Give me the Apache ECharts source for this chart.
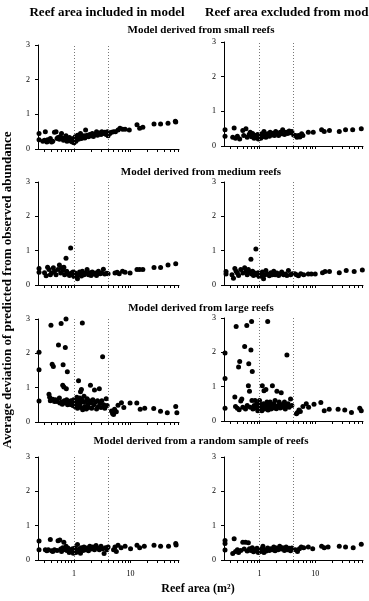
<!DOCTYPE html>
<html><head><meta charset="utf-8">
<script src="https://cdn.jsdelivr.net/npm/echarts@6/dist/echarts.min.js"></script>
<style>html,body{margin:0;padding:0;background:#fff}#c{width:369px;height:601px}</style>
</head><body><div id="c"></div>
<script>
const columnTitles = ['Reef area included in model', 'Reef area excluded from model'];
const rowTitles = ['Model derived from small reefs', 'Model derived from medium reefs', 'Model derived from large reefs', 'Model derived from a random sample of reefs'];
const yAxisTitle = 'Average deviation of predicted from observed abundance';
const xAxisTitle = 'Reef area (m\u00B2)';
const xTickValues = [0.3,0.4,0.5,0.6,0.7,0.8,0.9,1,2,3,4,5,6,7,8,9,10,20,30,40,50,60,70];
const xLabelValues = [1, 10];
const thresholdLines = [1, 4];

const smallIncluded = [[0.24,0.45],[0.24,0.27],[0.28,0.22],[0.3,0.25],[0.31,0.5],[0.33,0.2],[0.34,0.27],[0.36,0.24],[0.38,0.3],[0.4,0.2],[0.42,0.22],[0.45,0.48],[0.48,0.5],[0.5,0.3],[0.52,0.33],[0.55,0.28],[0.57,0.36],[0.6,0.45],[0.62,0.3],[0.65,0.25],[0.68,0.32],[0.7,0.27],[0.72,0.38],[0.75,0.22],[0.78,0.3],[0.8,0.26],[0.83,0.33],[0.86,0.23],[0.9,0.28],[0.93,0.2],[0.97,0.3],[1.0,0.18],[1.02,0.25],[1.05,0.35],[1.08,0.22],[1.1,0.3],[1.15,0.4],[1.2,0.28],[1.25,0.33],[1.3,0.45],[1.35,0.3],[1.4,0.36],[1.5,0.38],[1.55,0.32],[1.6,0.55],[1.7,0.4],[1.8,0.35],[1.9,0.42],[2.0,0.38],[2.1,0.45],[2.2,0.36],[2.35,0.42],[2.5,0.5],[2.6,0.4],[2.8,0.46],[3.0,0.42],[3.1,0.5],[3.3,0.45],[3.5,0.48],[3.7,0.42],[3.9,0.5],[4.0,0.38],[4.3,0.45],[4.6,0.48],[5.0,0.5],[5.4,0.5],[6.0,0.55],[6.5,0.6],[7.2,0.57],[8.0,0.57],[9.5,0.55],[13,0.7],[14.5,0.6],[16.5,0.63],[26,0.72],[34,0.72],[46,0.74],[62,0.8],[63,0.78]];
const smallExcluded = [[0.24,0.47],[0.24,0.28],[0.33,0.25],[0.35,0.52],[0.37,0.22],[0.4,0.28],[0.44,0.2],[0.5,0.45],[0.52,0.3],[0.57,0.5],[0.6,0.25],[0.65,0.33],[0.68,0.4],[0.72,0.27],[0.75,0.36],[0.8,0.22],[0.85,0.3],[0.88,0.25],[0.92,0.33],[0.95,0.2],[1.0,0.28],[1.05,0.22],[1.1,0.35],[1.15,0.27],[1.2,0.42],[1.25,0.3],[1.3,0.25],[1.4,0.35],[1.5,0.28],[1.55,0.4],[1.65,0.32],[1.75,0.37],[1.85,0.3],[1.95,0.42],[2.1,0.35],[2.2,0.3],[2.35,0.4],[2.5,0.35],[2.6,0.47],[2.8,0.33],[3.0,0.4],[3.2,0.36],[3.4,0.43],[3.6,0.38],[3.8,0.42],[4.1,0.32],[4.4,0.3],[4.7,0.25],[5.0,0.3],[5.3,0.26],[5.7,0.35],[6.0,0.3],[7.5,0.4],[9.2,0.4],[13,0.47],[14.5,0.42],[18,0.45],[27,0.42],[35,0.47],[47,0.47],[67,0.5]];
const mediumIncluded = [[0.24,0.48],[0.24,0.37],[0.3,0.36],[0.32,0.27],[0.34,0.52],[0.36,0.45],[0.38,0.3],[0.4,0.35],[0.43,0.5],[0.45,0.4],[0.48,0.3],[0.52,0.45],[0.55,0.58],[0.58,0.35],[0.6,0.5],[0.63,0.42],[0.66,0.52],[0.68,0.3],[0.72,0.78],[0.74,0.4],[0.76,0.35],[0.8,0.32],[0.83,0.28],[0.87,1.08],[0.9,0.35],[0.93,0.3],[0.96,0.38],[1.0,0.25],[1.05,0.35],[1.1,0.28],[1.15,0.18],[1.18,0.3],[1.25,0.38],[1.3,0.32],[1.35,0.26],[1.4,0.4],[1.5,0.3],[1.6,0.35],[1.7,0.45],[1.8,0.3],[1.9,0.36],[2.0,0.28],[2.1,0.38],[2.25,0.32],[2.4,0.35],[2.5,0.28],[2.7,0.4],[2.9,0.33],[3.1,0.35],[3.3,0.46],[3.5,0.32],[3.8,0.34],[4.0,0.33],[5.3,0.35],[5.8,0.37],[6.3,0.33],[7.2,0.4],[8.0,0.37],[9.8,0.35],[13,0.45],[14.5,0.45],[16.5,0.45],[26,0.51],[34,0.51],[46,0.58],[63,0.62]];
const mediumExcluded = [[0.25,0.39],[0.25,0.32],[0.32,0.3],[0.34,0.2],[0.36,0.48],[0.38,0.4],[0.4,0.35],[0.42,0.28],[0.46,0.45],[0.5,0.35],[0.54,0.5],[0.57,0.4],[0.6,0.3],[0.63,0.45],[0.66,0.37],[0.7,0.75],[0.72,0.32],[0.75,0.4],[0.78,0.28],[0.82,0.35],[0.86,1.05],[0.9,0.3],[0.94,0.36],[0.98,0.25],[1.03,0.32],[1.08,0.27],[1.12,0.38],[1.18,0.18],[1.25,0.3],[1.3,0.42],[1.4,0.32],[1.5,0.27],[1.6,0.36],[1.7,0.3],[1.8,0.4],[1.9,0.3],[2.05,0.35],[2.2,0.28],[2.35,0.33],[2.5,0.38],[2.7,0.3],[2.9,0.32],[3.1,0.28],[3.3,0.42],[3.6,0.3],[3.9,0.33],[4.3,0.33],[4.6,0.3],[5.0,0.27],[5.5,0.33],[6.2,0.3],[7.5,0.32],[8.5,0.32],[10,0.32],[13.5,0.36],[15,0.39],[18,0.39],[27,0.36],[36,0.42],[50,0.39],[70,0.44]];
const largeIncluded = [[0.24,2.03],[0.24,1.52],[0.24,0.61],[0.36,0.81],[0.37,0.72],[0.38,0.62],[0.39,2.82],[0.41,1.68],[0.42,0.66],[0.43,1.62],[0.45,0.6],[0.47,0.65],[0.5,0.6],[0.53,2.24],[0.55,0.7],[0.56,0.55],[0.59,2.87],[0.6,0.58],[0.62,0.52],[0.63,1.07],[0.64,1.67],[0.66,1.02],[0.67,0.62],[0.7,2.17],[0.71,0.55],[0.72,3.0],[0.73,0.97],[0.74,0.65],[0.76,1.46],[0.77,0.5],[0.8,0.6],[0.82,0.55],[0.85,0.52],[0.88,0.62],[0.9,0.5],[0.93,0.58],[0.96,0.48],[0.98,0.65],[1.0,0.55],[1.03,0.45],[1.06,0.6],[1.1,0.5],[1.12,0.72],[1.15,0.4],[1.18,0.62],[1.2,1.2],[1.23,0.48],[1.26,0.7],[1.28,0.55],[1.3,0.88],[1.33,0.42],[1.35,0.95],[1.37,0.65],[1.4,2.88],[1.42,0.36],[1.45,0.58],[1.5,0.75],[1.55,0.45],[1.6,0.6],[1.65,0.38],[1.7,0.68],[1.75,0.5],[1.8,0.42],[1.85,0.62],[1.95,1.07],[2.0,0.55],[2.05,0.4],[2.15,0.65],[2.25,0.5],[2.3,0.93],[2.4,0.58],[2.5,0.38],[2.6,0.62],[2.7,0.45],[2.8,0.97],[2.9,0.55],[3.0,0.42],[3.1,0.62],[3.2,1.9],[3.35,0.5],[3.5,0.4],[3.7,0.68],[3.85,0.48],[4.6,0.32],[4.8,0.25],[5.0,0.22],[5.2,0.37],[5.6,0.3],[6.0,0.49],[6.9,0.56],[7.6,0.42],[9.8,0.55],[12.9,0.55],[14.8,0.37],[17.8,0.4],[25.7,0.39],[33.9,0.31],[44.7,0.27],[63,0.45],[66,0.27]];
const largeExcluded = [[0.24,1.98],[0.24,1.24],[0.24,0.37],[0.36,0.7],[0.37,0.42],[0.38,2.75],[0.4,0.37],[0.42,1.57],[0.43,0.33],[0.44,1.73],[0.46,0.58],[0.48,0.64],[0.5,0.4],[0.54,2.17],[0.56,0.35],[0.59,2.78],[0.6,0.45],[0.63,1.03],[0.64,1.67],[0.66,0.87],[0.68,0.4],[0.7,2.07],[0.72,2.9],[0.73,0.6],[0.74,1.44],[0.76,0.35],[0.8,0.45],[0.83,0.6],[0.86,0.38],[0.9,0.5],[0.93,0.3],[0.96,0.42],[1.0,0.6],[1.03,0.35],[1.06,0.48],[1.1,0.3],[1.12,1.03],[1.15,0.4],[1.18,0.5],[1.2,0.88],[1.23,0.35],[1.26,0.45],[1.3,0.92],[1.33,0.38],[1.36,0.55],[1.4,2.9],[1.42,0.32],[1.45,0.48],[1.5,0.4],[1.55,0.55],[1.6,0.35],[1.65,0.45],[1.7,1.03],[1.75,0.38],[1.8,0.5],[1.85,0.42],[1.9,0.6],[2.0,0.36],[2.05,0.87],[2.15,0.45],[2.25,0.55],[2.35,0.38],[2.45,0.82],[2.55,0.48],[2.65,0.4],[2.8,0.55],[2.9,0.35],[3.0,0.45],[3.1,1.92],[3.25,0.5],[3.4,0.4],[3.6,0.64],[3.8,0.45],[4.6,0.21],[4.8,0.25],[5.1,0.32],[5.4,0.28],[6.0,0.42],[6.9,0.5],[7.6,0.4],[9.5,0.49],[12.6,0.54],[14.5,0.3],[17.8,0.34],[25.7,0.34],[33.9,0.32],[44.7,0.25],[63,0.37],[67,0.3]];
const randomIncluded = [[0.24,0.55],[0.24,0.3],[0.31,0.3],[0.33,0.27],[0.35,0.3],[0.38,0.6],[0.4,0.27],[0.42,0.25],[0.45,0.3],[0.5,0.28],[0.52,0.56],[0.56,0.58],[0.58,0.32],[0.6,0.25],[0.63,0.36],[0.66,0.52],[0.7,0.3],[0.72,0.4],[0.75,0.28],[0.78,0.35],[0.82,0.22],[0.86,0.3],[0.9,0.26],[0.94,0.33],[0.97,0.2],[1.0,0.28],[1.04,0.35],[1.08,0.22],[1.12,0.3],[1.15,0.45],[1.2,0.25],[1.25,0.32],[1.3,0.2],[1.35,0.36],[1.45,0.28],[1.5,0.38],[1.6,0.3],[1.7,0.35],[1.8,0.27],[1.9,0.4],[2.0,0.32],[2.15,0.38],[2.3,0.3],[2.45,0.42],[2.6,0.35],[2.8,0.3],[3.0,0.4],[3.2,0.33],[3.4,0.19],[3.6,0.36],[3.8,0.3],[4.0,0.38],[5.0,0.3],[5.3,0.38],[5.6,0.25],[6.0,0.43],[6.8,0.36],[8.0,0.4],[10,0.33],[13,0.43],[14.5,0.36],[17.5,0.4],[26,0.43],[34,0.4],[47,0.4],[63,0.48],[64,0.44]];
const randomExcluded = [[0.24,0.57],[0.24,0.48],[0.24,0.29],[0.33,0.19],[0.35,0.62],[0.37,0.25],[0.4,0.3],[0.42,0.22],[0.46,0.28],[0.5,0.52],[0.53,0.32],[0.56,0.52],[0.6,0.26],[0.63,0.5],[0.66,0.33],[0.7,0.28],[0.74,0.36],[0.78,0.24],[0.82,0.3],[0.86,0.27],[0.9,0.34],[0.95,0.22],[1.0,0.3],[1.05,0.25],[1.1,0.33],[1.15,0.4],[1.2,0.22],[1.25,0.3],[1.32,0.26],[1.4,0.35],[1.5,0.28],[1.6,0.33],[1.7,0.3],[1.8,0.38],[1.9,0.27],[2.0,0.35],[2.15,0.3],[2.3,0.4],[2.45,0.32],[2.6,0.36],[2.8,0.28],[3.0,0.38],[3.2,0.3],[3.4,0.34],[3.6,0.27],[3.8,0.35],[4.4,0.3],[4.8,0.25],[5.2,0.33],[5.6,0.38],[6.2,0.36],[7.5,0.38],[9,0.33],[13,0.4],[14.5,0.36],[17,0.38],[27,0.4],[35,0.38],[48,0.36],[67,0.46]];

const panelData = [smallIncluded, smallExcluded, mediumIncluded, mediumExcluded, largeIncluded, largeExcluded, randomIncluded, randomExcluded];

const FONT = '"Liberation Serif", "Times New Roman", serif';
const rowGeom = [{t:[45,42], h:104}, {t:[182,182], h:103}, {t:[319,318], h:103}, {t:[457,457], h:103}];
const colGeom = [{left:38, width:141}, {left:224, width:139}];

const grid = [], xAxis = [], yAxis = [], series = [];
panelData.forEach((d, i) => {
  const r = Math.floor(i / 2), c = i % 2;
  grid.push({left: colGeom[c].left, width: colGeom[c].width, top: rowGeom[r].t[c], height: rowGeom[r].h});
  xAxis.push({
    type: 'log', logBase: 10, gridIndex: i, min: 0.23, max: 72,
    axisLine: {show: true, lineStyle: {color: '#000', width: 1}},
    axisTick: {show: true, customValues: xTickValues, length: 3, lineStyle: {color: '#000', width: 1}},
    axisLabel: {show: r === 3, customValues: xLabelValues, fontSize: 8, fontFamily: FONT, color: '#000', margin: 10,
      formatter: v => String(Math.round(v))},
    splitLine: {show: false}, minorTick: {show: false}
  });
  yAxis.push({
    type: 'value', gridIndex: i, min: 0, max: 3, interval: 1,
    axisLine: {show: true, lineStyle: {color: '#000', width: 1}},
    axisTick: {show: true, length: 3, lineStyle: {color: '#000'}},
    axisLabel: {fontSize: 8, fontFamily: FONT, color: '#000', margin: 8},
    splitLine: {show: false}
  });
  series.push({
    type: 'scatter', xAxisIndex: i, yAxisIndex: i, data: d, symbolSize: 5,
    itemStyle: {color: '#000', opacity: 1},
    markLine: {silent: true, symbol: 'none', label: {show: false},
      lineStyle: {type: [1, 2], color: '#777', width: 1},
      data: thresholdLines.map(v => ({xAxis: v}))}
  });
});

const graphic = [
  {type:'text', x:107, y:13, style:{text: columnTitles[0], font:'bold 13px ' + FONT, textAlign:'center', textVerticalAlign:'middle', fill:'#000'}},
  {type:'text', x:205, y:13, style:{text: columnTitles[1], font:'bold 13px ' + FONT, textAlign:'left', textVerticalAlign:'middle', fill:'#000'}},
  {type:'text', x:8, y:290, rotation: Math.PI/2, style:{text: yAxisTitle, font:'bold 13px ' + FONT, textAlign:'center', textVerticalAlign:'middle', fill:'#000'}},
  {type:'text', x:198, y:589, style:{text: xAxisTitle, font:'bold 12px ' + FONT, textAlign:'center', textVerticalAlign:'middle', fill:'#000'}}
];
const rowTitleY = [30, 172, 308, 441];
rowTitles.forEach((t, r) => graphic.push({type:'text', x:201, y:rowTitleY[r], style:{text:t, font:'bold 11px ' + FONT, textAlign:'center', textVerticalAlign:'middle', fill:'#000'}}));

const chart = echarts.init(document.getElementById('c'), null, {renderer: 'canvas'});
chart.setOption({animation: false, backgroundColor: '#fff', grid, xAxis, yAxis, series, graphic});
</script></body></html>
